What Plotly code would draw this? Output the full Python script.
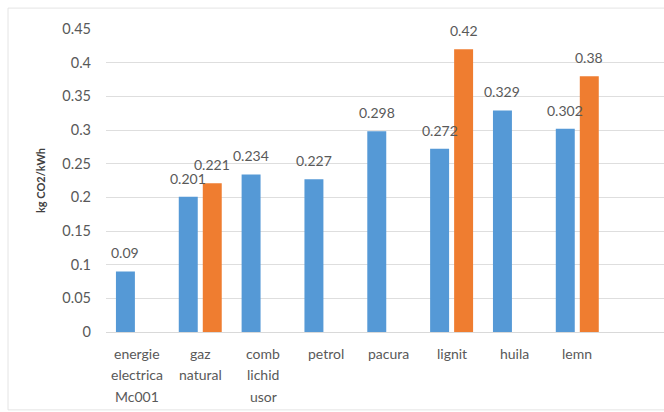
import plotly.graph_objects as go

# Emission factors by fuel type (kg CO2 per kWh)
categories = [
    "energie<br>electrica<br>Mc001",
    "gaz<br>natural",
    "comb<br>lichid<br>usor",
    "petrol",
    "pacura",
    "lignit",
    "huila",
    "lemn",
]
series_a = [0.09, 0.201, 0.234, 0.227, 0.298, 0.272, 0.329, 0.302]
series_b = [None, 0.221, None, None, None, 0.42, None, 0.38]
y_ticks = [0, 0.05, 0.1, 0.15, 0.2, 0.25, 0.3, 0.35, 0.4, 0.45]

BLUE = "#5599d6"
ORANGE = "#ef7d30"
TEXT = "#595959"
FONT = "Lato, 'Open Sans', sans-serif"

fig = go.Figure()
fig.add_trace(go.Bar(x=categories, y=series_a, marker=dict(color=BLUE, line=dict(width=0)),
                     showlegend=False, hoverinfo="y"))
fig.add_trace(go.Bar(x=categories, y=series_b, marker=dict(color=ORANGE, line=dict(width=0)),
                     showlegend=False, hoverinfo="y"))

annotations = []
# value labels above each bar
for vals, shift in ((series_a, -12), (series_b, 12)):
    for cat, v in zip(categories, vals):
        if v is None:
            continue
        annotations.append(dict(
            x=cat, y=v, xref="x", yref="y", xshift=shift, yshift=8,
            text=f"{v:g}", showarrow=False, yanchor="bottom",
            font=dict(family=FONT, size=14, color=TEXT),
        ))

# category labels under the axis, one line at a time for wider line spacing
for cat in categories:
    for i, line in enumerate(cat.split("<br>")):
        annotations.append(dict(
            x=cat, y=0, xref="x", yref="y", yshift=-21 - 21.5 * i,
            text=line, showarrow=False, yanchor="middle",
            font=dict(family=FONT, size=14, color=TEXT),
        ))

fig.update_layout(
    width=664, height=412,
    margin=dict(l=106, r=0, t=29, b=80),
    paper_bgcolor="white", plot_bgcolor="white",
    barmode="group", bargap=0.236, bargroupgap=0.21,
    font=dict(family=FONT, size=14, color=TEXT),
    annotations=annotations,
    shapes=[dict(type="rect", xref="paper", yref="paper",
                 x0=-0.1756, x1=1.02, y0=-0.257, y1=1.069,
                 line=dict(color="#e4e4e4", width=1), layer="below")],
)
fig.update_xaxes(
    range=[-0.5, 8.38], showgrid=False, showline=False, zeroline=False,
    ticks="", showticklabels=False, fixedrange=True,
)
fig.update_yaxes(
    range=[0, 0.45], tickvals=y_ticks, ticktext=[f"{t:g}" for t in y_ticks],
    showgrid=True, gridcolor="#dedede", gridwidth=1,
    zeroline=True, zerolinecolor="#d9d9d9", zerolinewidth=1,
    showline=False, ticks="", ticklabelstandoff=14,
    tickfont=dict(family=FONT, size=14.5, color=TEXT),
    title=dict(text="<b>kg CO2/kWh</b>", font=dict(family=FONT, size=11, color="#404040"), standoff=14),
    fixedrange=True,
)

fig.write_html("out.html")
